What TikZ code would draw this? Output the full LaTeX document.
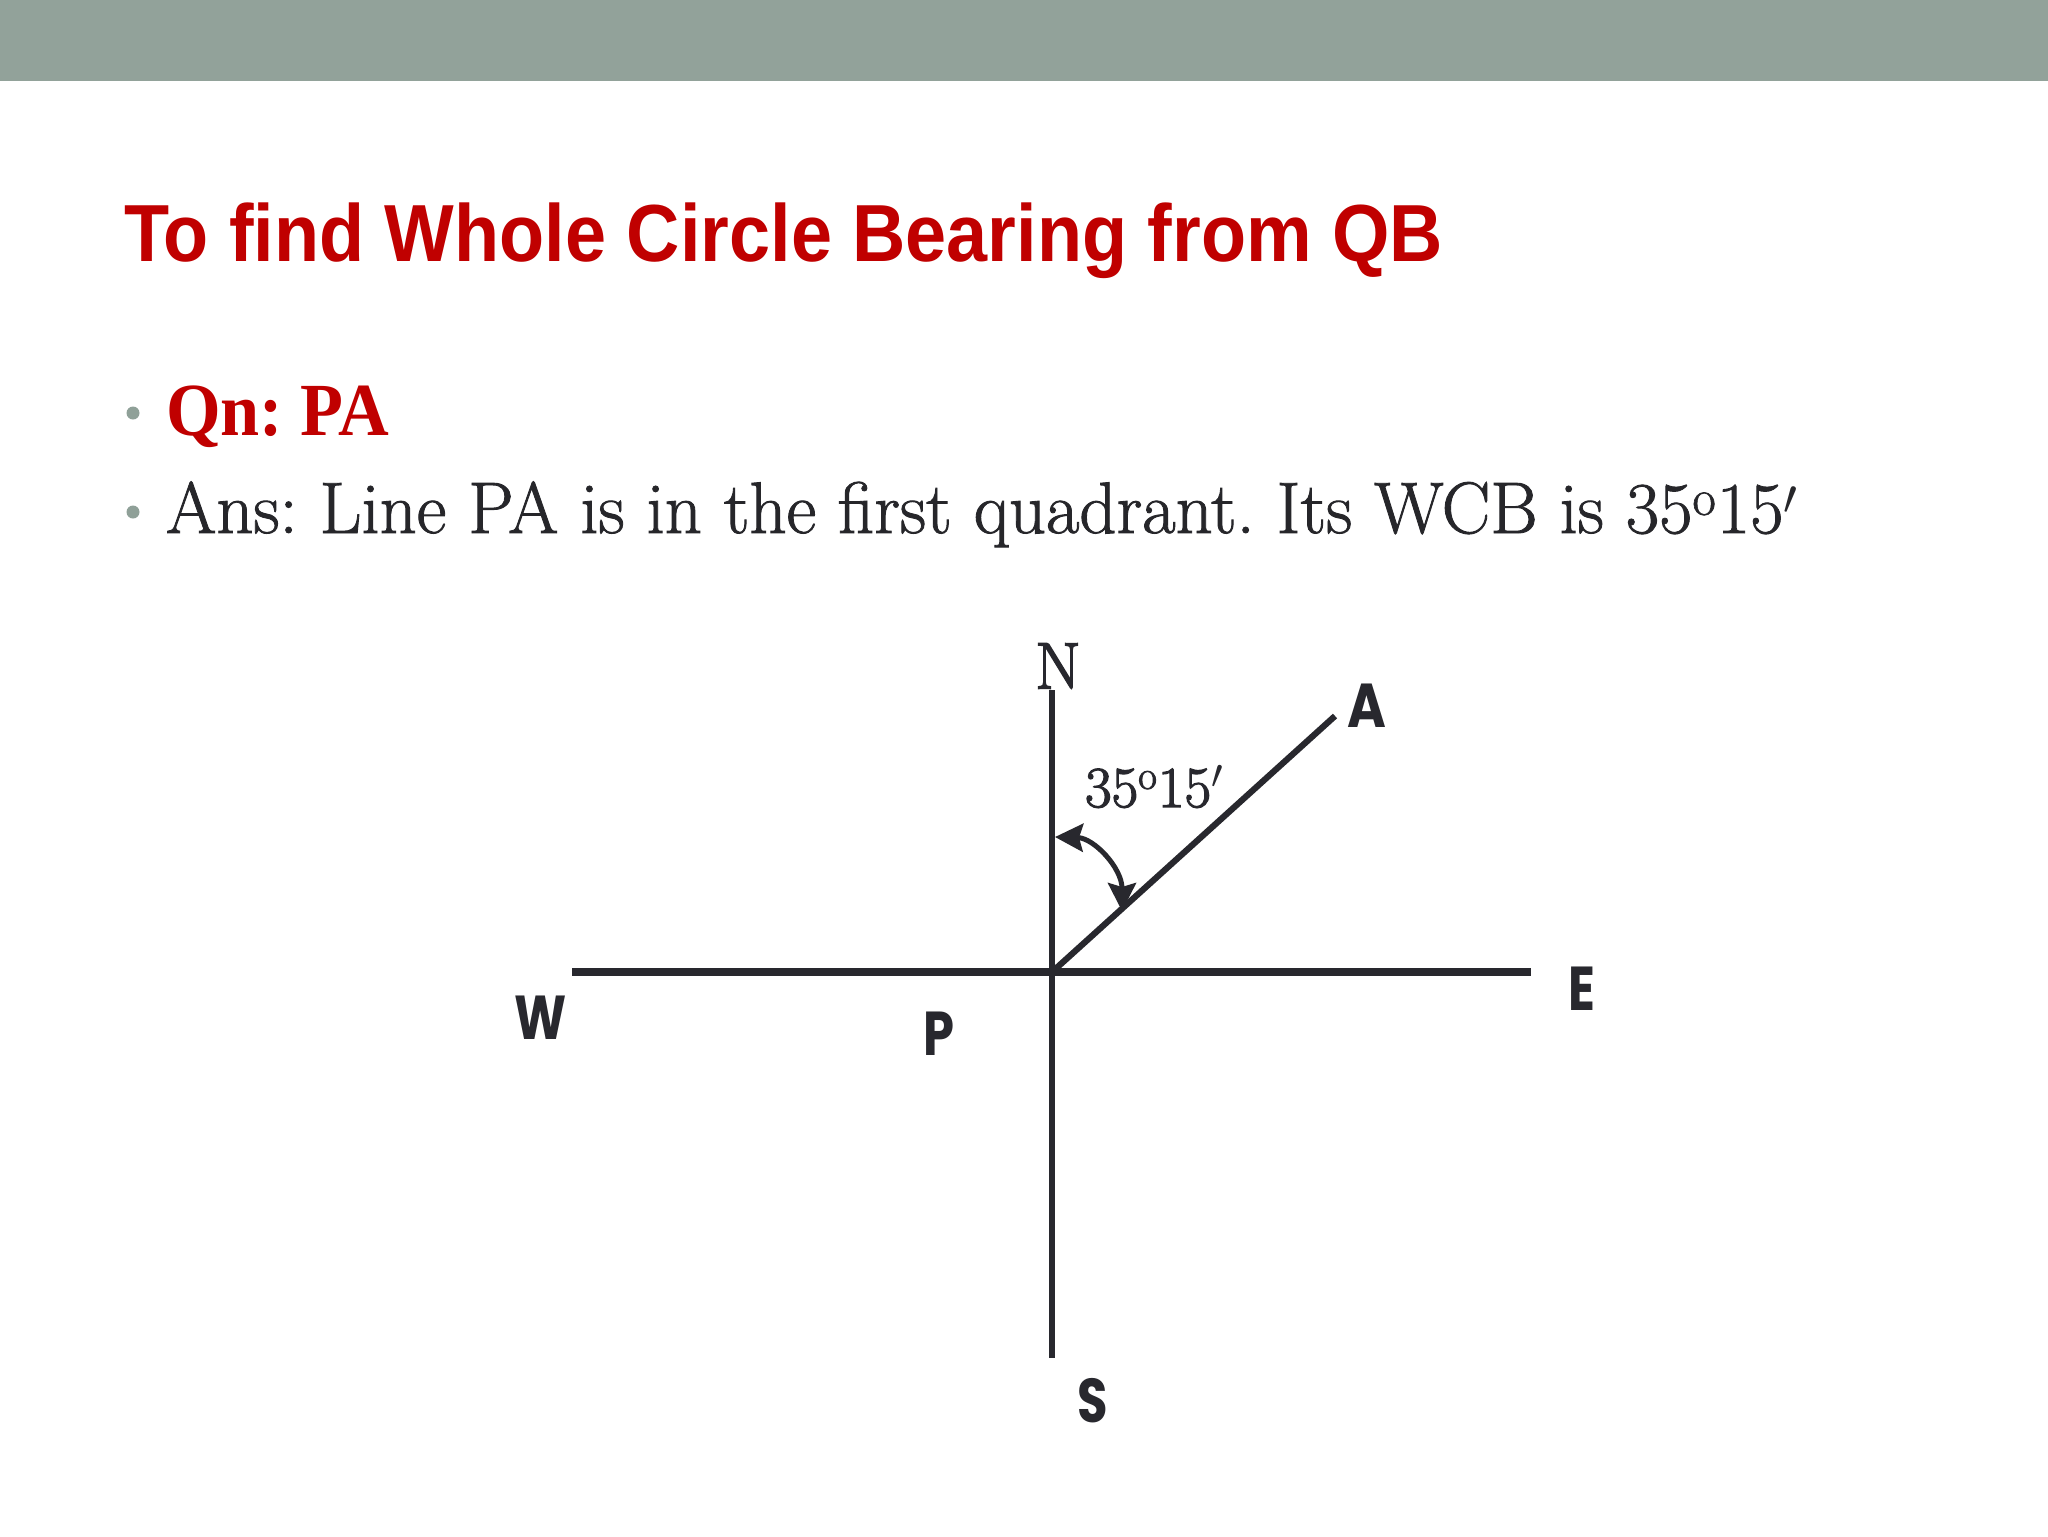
\documentclass[tikz,border=0pt]{standalone}
\usepackage{fontspec}
\usepackage{graphicx}
\usetikzlibrary{arrows.meta}
\newfontfamily\titlefont{Liberation Sans}
\newfontfamily\geofont{Poppins}
\newfontfamily\bodyserif{Latin Modern Roman}[FakeBold=1.2]
\newfontfamily\labelserif{Latin Modern Roman}[FakeBold=2.2]
\newfontfamily\qnserif{Liberation Serif}
\frenchspacing
\definecolor{barcol}{RGB}{146,162,154}
\definecolor{titlered}{RGB}{192,0,0}
\definecolor{bodytext}{RGB}{38,38,42}
\definecolor{bulletgray}{RGB}{143,160,152}
\definecolor{ink}{RGB}{40,40,46}
\tikzset{
  txt/.style={anchor=base west, inner sep=0pt, outer sep=0pt},
  compass/.style={font=\geofont\bfseries\fontsize{31}{36}\selectfont, text=ink, inner sep=0pt},
  axisline/.style={draw=ink, line width=3.2pt},
  bulletdot/.style={circle, fill=bulletgray, inner sep=0pt, minimum size=6.5pt},
  arcarrow/.style={draw=ink, line width=2.5pt, {Stealth[inset=2pt,length=14pt,width=14pt]}-{Stealth[inset=2pt,length=14pt,width=14pt]}}
}
\begin{document}
\begin{tikzpicture}[x=0.5pt,y=-0.5pt]
\useasboundingbox (0,0) rectangle (2048,1536);
\fill[white] (0,0) rectangle (2048,1536);
\fill[barcol] (0,0) rectangle (2048,81);
% title
\node[txt, text=titlered, font=\titlefont\bfseries\fontsize{40.5}{48}\selectfont] (title) at (124,261)
  {\resizebox{659.5pt}{\height}{To find Whole Circle Bearing from QB}};
% bullets
\node[bulletdot] (b1) at (133,413) {};
\node[bulletdot] (b2) at (133,512) {};
\node[txt, text=titlered, font=\qnserif\bfseries\fontsize{37.5}{44}\selectfont] (qn) at (166,435)
  {\resizebox{111.5pt}{\height}{Qn: PA}};
\node[txt, text=bodytext, font=\bodyserif\fontsize{36.5}{44}\selectfont] (ans) at (166,533)
  {\resizebox{816pt}{\height}{Ans: Line PA is in the first quadrant. Its WCB is 35\textsuperscript{o}15$'$}};
% diagram
\coordinate (P) at (1052,972);
\coordinate (Wend) at (572,972);
\coordinate (Eend) at (1531,972);
\coordinate (Nend) at (1052,690);
\coordinate (Send) at (1052,1358);
\coordinate (Aend) at (1335,716);
\coordinate (arcS) at (1055,837);
\coordinate (arcE) at (1122,911);
\draw[axisline, line width=3.6pt] (Wend) -- (Eend);
\draw[axisline, line width=2.8pt] (Nend) -- (Send);
\draw[axisline, line width=3.1pt] (P) -- (Aend);
\draw[arcarrow] (arcS) .. controls (1094,838) and (1122,868) .. (arcE);
\node[text=ink, inner sep=0pt, font=\labelserif\fontsize{33}{40}\selectfont] (N) at (1058,666) {N};
\node[txt, text=ink, font=\labelserif\fontsize{29}{35}\selectfont] (ang) at (1085,807) {35\textsuperscript{o}15$'$};
\node[compass] (A) at (1367,706) {\scalebox{0.85}[1]{A}};
\node[compass] (W) at (541,1018) {\scalebox{0.8}[1]{W}};
\node[compass] (Plab) at (939,1034) {\scalebox{0.8}[1]{P}};
\node[compass] (E) at (1582,989) {\scalebox{0.8}[1]{E}};
\node[compass] (S) at (1093,1401) {\scalebox{0.8}[1]{S}};
\end{tikzpicture}
\end{document}
